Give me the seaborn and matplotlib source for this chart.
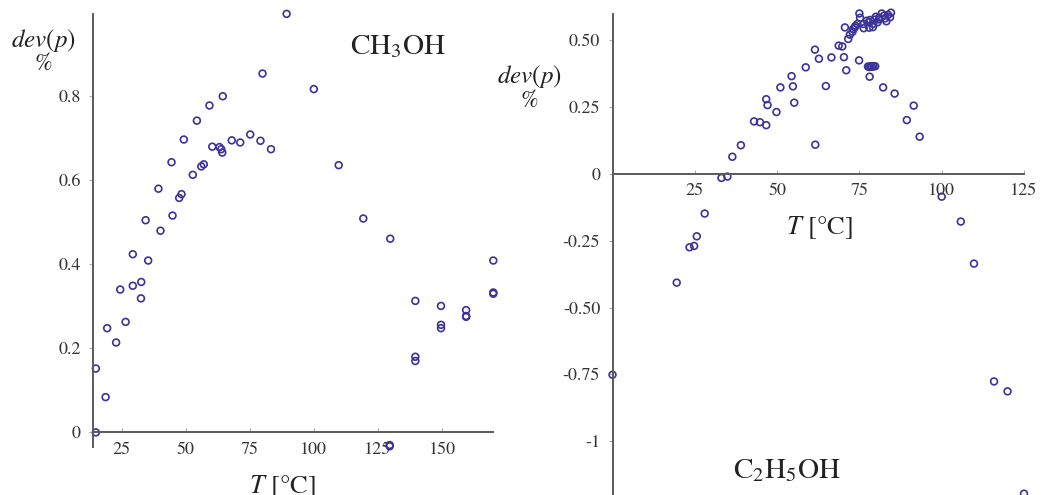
import matplotlib
matplotlib.use("Agg")
import matplotlib.pyplot as plt
import seaborn as sns
import pandas as pd

# --- Methanol (CH3OH): deviation of vapour pressure vs temperature ---
meoh_T = [89.4, 80.0, 100.0, 64.5, 59.3, 54.4, 49.3, 75.2, 68.0, 71.3,
          79.2, 83.3, 60.4, 63.2, 63.9, 64.3, 109.7, 44.5, 57.1, 56.1,
          52.8, 39.4, 48.4, 47.5, 119.3, 34.4, 44.9, 40.2, 129.8, 29.4,
          35.4, 170.0, 32.7, 24.5, 29.4, 32.6, 170.0, 170.0, 139.6, 149.6,
          159.4, 159.4, 159.4, 149.6, 149.6, 26.6, 19.4, 22.9, 139.6, 139.6,
          15.0, 18.8, 15.0, 129.6, 129.6]
meoh_dev = [0.996, 0.854, 0.817, 0.800, 0.778, 0.742, 0.697, 0.709, 0.695, 0.690,
            0.694, 0.674, 0.680, 0.679, 0.674, 0.666, 0.636, 0.643, 0.638, 0.633,
            0.613, 0.580, 0.567, 0.558, 0.509, 0.505, 0.516, 0.480, 0.461, 0.424,
            0.409, 0.409, 0.358, 0.340, 0.349, 0.319, 0.333, 0.330, 0.313, 0.301,
            0.291, 0.277, 0.275, 0.256, 0.248, 0.263, 0.248, 0.214, 0.180, 0.170,
            0.152, 0.084, 0.000, -0.030, -0.033]

# --- Ethanol (C2H5OH) ---
etoh_T = [75.0, 75.2, 84.6, 83.7, 81.8, 84.3, 83.2, 80.0, 80.9, 77.2,
          78.3, 79.2, 76.2, 74.4, 76.3, 78.0, 79.1, 73.6, 70.6, 72.9,
          72.1, 71.6, 68.7, 69.8, 82.5, 81.0, 79.5, 77.8, 80.5, 82.8,
          73.8, 73.1, 61.5, 62.7, 66.5, 70.3, 74.9, 58.7, 71.0, 77.6,
          78.0, 78.4, 78.8, 79.3, 79.8, 78.1, 54.4, 51.0, 54.8, 64.8,
          82.2, 85.7, 46.7, 47.1, 55.2, 91.5, 49.8, 43.0, 44.8, 46.7,
          89.4, 93.3, 39.0, 61.6, 36.4, 33.1, 34.9, 100.0, 28.0, 105.8,
          25.6, 23.4, 24.8, 19.5, 109.8, 0.0, 115.9, 120.0, 125.0]
etoh_dev = [0.598, 0.582, 0.601, 0.593, 0.598, 0.584, 0.569, 0.586, 0.576, 0.571,
            0.574, 0.559, 0.559, 0.559, 0.543, 0.545, 0.547, 0.546, 0.546, 0.530,
            0.519, 0.503, 0.478, 0.475, 0.590, 0.583, 0.575, 0.565, 0.565, 0.580,
            0.552, 0.540, 0.463, 0.429, 0.434, 0.435, 0.423, 0.397, 0.386, 0.400,
            0.398, 0.401, 0.399, 0.401, 0.401, 0.362, 0.364, 0.322, 0.326, 0.327,
            0.322, 0.299, 0.278, 0.256, 0.265, 0.254, 0.230, 0.195, 0.192, 0.181,
            0.200, 0.138, 0.106, 0.108, 0.063, -0.016, -0.011, -0.086, -0.149, -0.179,
            -0.234, -0.275, -0.270, -0.407, -0.336, -0.751, -0.776, -0.813, -1.195]

meoh_xticks = [25, 50, 75, 100, 125, 150]
meoh_yticks = [0, 0.2, 0.4, 0.6, 0.8]
meoh_yticklabels = ["0", "0.2", "0.4", "0.6", "0.8"]
etoh_xticks = [25, 50, 75, 100, 125]
etoh_yticks = [0.5, 0.25, 0, -0.25, -0.5, -0.75, -1]
etoh_yticklabels = ["0.50", "0.25", "0", "-0.25", "-0.50", "-0.75", "-1"]

sns.set_theme(style="white")
plt.rcParams["font.family"] = ["STIXGeneral", "DejaVu Serif"]
plt.rcParams["mathtext.fontset"] = "stix"

W, H = 1041, 495
fig = plt.figure(figsize=(W / 100, H / 100), dpi=100)
fig.patch.set_facecolor("white")

MARK = "#3b329a"
AXIS = "#5a5a5a"
TXT = "#333333"


def px_axes(x0, x1, ytop, ybot):
    return fig.add_axes([x0 / W, 1 - ybot / H, (x1 - x0) / W, (ybot - ytop) / H])


def style(ax, xticks, yticks, yticklabels, xlim, ylim):
    ax.set_xlim(*xlim)
    ax.set_ylim(*ylim)
    ax.set_facecolor("white")
    for s in ("top", "right"):
        ax.spines[s].set_visible(False)
    ax.spines["bottom"].set_position(("data", 0))
    for s in ("left", "bottom"):
        ax.spines[s].set_color(AXIS)
        ax.spines[s].set_linewidth(1.4)
    ax.set_xticks(xticks)
    ax.set_xticklabels([str(t) for t in xticks])
    ax.set_yticks(yticks)
    ax.set_yticklabels(yticklabels)
    ax.tick_params(axis="x", direction="in", length=3, width=0.8, color="#aaaaaa",
                   labelsize=13, labelcolor=TXT, pad=7, bottom=True)
    ax.tick_params(axis="y", direction="out", length=3, width=0.8, color="#aaaaaa",
                   labelsize=13, labelcolor=TXT, pad=6, left=True)
    ax.set_xlabel("")
    ax.set_ylabel("")
    ax.grid(False)


# Left panel: methanol
ax1 = px_axes(93.3, 493.3, 14.3, 446.7)
df1 = pd.DataFrame({"T": meoh_T, "dev": meoh_dev})
sns.scatterplot(data=df1, x="T", y="dev", ax=ax1, marker="o", s=24,
                facecolor="none", edgecolor=MARK, linewidth=1.2, clip_on=False)
style(ax1, meoh_xticks, meoh_yticks, meoh_yticklabels, (14, 170), (-0.034, 0.995))

# Right panel: ethanol
ax2 = px_axes(612.5, 1024.0, 14.3, 495.0)
df2 = pd.DataFrame({"T": etoh_T, "dev": etoh_dev})
sns.scatterplot(data=df2, x="T", y="dev", ax=ax2, marker="o", s=24,
                facecolor="none", edgecolor=MARK, linewidth=1.2, clip_on=False)
style(ax2, etoh_xticks, etoh_yticks, etoh_yticklabels, (0, 125), (-1.2, 0.595))


def label(x, y, s, size, **kw):
    fig.text(x / W, 1 - y / H, s, ha="center", va="center", fontsize=size,
             color="#222222", **kw)


# Axis titles and substance names
label(43, 40, r"$dev(p)$", 18)
label(43, 64, "%", 17)
label(398, 47, r"CH$_3$OH", 21)
label(282, 487, r"$T$ [°C]", 19)

label(529, 77, r"$dev(p)$", 18)
label(529, 101, "%", 17)
label(819, 228, r"$T$ [°C]", 19)
label(787, 471, r"C$_2$H$_5$OH", 21)

fig.savefig("out.png", dpi=100, facecolor="white")
